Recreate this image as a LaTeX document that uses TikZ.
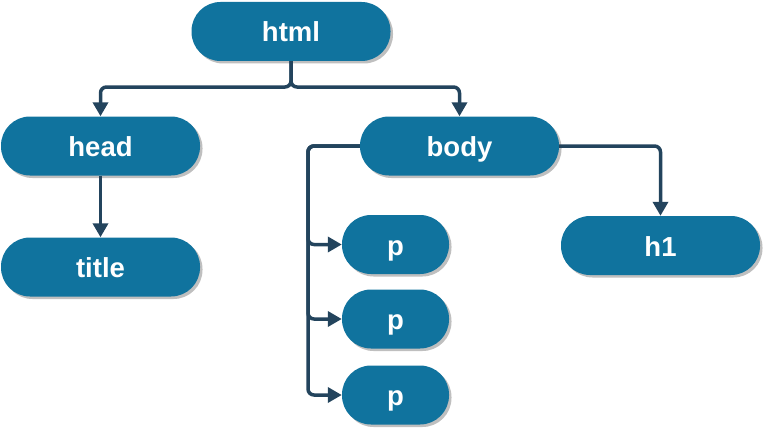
\documentclass[tikz,border=0pt]{standalone}
\usepackage{fontspec}
\setmainfont{Liberation Sans}
\usetikzlibrary{arrows.meta,shadows}
\definecolor{tagblue}{HTML}{10739E}
\definecolor{linkdark}{HTML}{23445D}

\begin{document}
\begin{tikzpicture}[x=1pt,y=-1pt,
  tag/.style={shape=rectangle, rounded corners=29pt, fill=tagblue, text=white, minimum height=59pt, minimum width=199pt, inner sep=0pt, text height=21pt, text depth=0pt, font=\fontsize{27.5}{32}\selectfont\bfseries, drop shadow={shadow xshift=2.5pt, shadow yshift=-2.5pt, fill=black!25, opacity=1}},
  smalltag/.style={tag, minimum width=107pt},
  link/.style={draw=linkdark, line width=3.5pt, rounded corners=6pt, -{Triangle[length=14pt,width=15pt]}}]
\useasboundingbox (0,0) rectangle (763,428);

\node [tag] (html) at (291,31.5) {html};
\node [tag] (head) at (100.5,146) {head};
\node [tag] (body) at (459.5,146) {body};
\node [tag] (title) at (100.5,267) {title};
\node [smalltag] (p1) at (395.5,244.5) {p};
\node [smalltag] (p2) at (395.5,319) {p};
\node [smalltag] (p3) at (395.5,395) {p};
\node [tag] (h1) at (660.5,245.5) {h1};

\coordinate (fork) at (291,87);
\coordinate (spine) at (308,146);

\draw [link] (html.south) -- (fork) -| (head);
\draw [link] (html.south) -- (fork) -| (body);
\draw [link] (head) -- (title);
\draw [link] (body.west) -- (spine) |- (p1);
\draw [link] (body.west) -- (spine) |- (p2);
\draw [link] (body.west) -- (spine) |- (p3);
\draw [link] (body.east) -| (h1);
\end{tikzpicture}
\end{document}
